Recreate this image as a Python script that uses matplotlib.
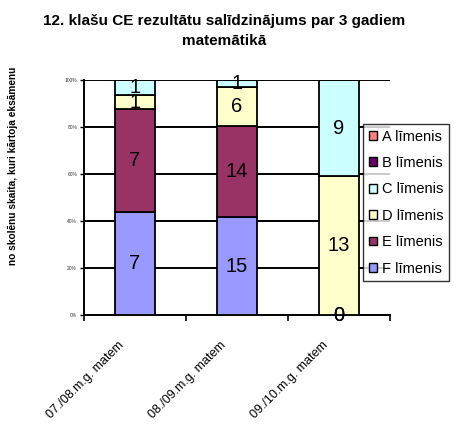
import matplotlib
matplotlib.use("Agg")
import matplotlib.pyplot as plt
import matplotlib.transforms as mtransforms
import numpy as np

plt.rcParams['font.family'] = ['Liberation Sans', 'DejaVu Sans']

categories = ["07./08.m.g. matem", "08./09.m.g. matem", "09./10.m.g. matem"]
levels = ["F līmenis", "E līmenis", "D līmenis", "C līmenis", "B līmenis", "A līmenis"]
F_vals = [7, 15, 0]
E_vals = [7, 14, 0]
D_vals = [1, 6, 13]
C_vals = [1, 1, 9]
B_vals = [0, 0, 0]
A_vals = [0, 0, 0]
colors = ["#9999FF", "#993366", "#FFFFCC", "#CCFFFF", "#660066", "#FF8080"]
yticks = [0, 20, 40, 60, 80, 100]
ytick_labels = ["0%", "20%", "40%", "60%", "80%", "100%"]
title = "12. klašu CE rezultātu salīdzinājums par 3 gadiem\nmatemātikā"
ylabel = "no skolēnu skaita, kuri kārtoja eksāmenu"

series = [F_vals, E_vals, D_vals, C_vals, B_vals, A_vals]
data = np.array(series, dtype=float)
totals = data.sum(axis=0)
pct = data / totals * 100

fig = plt.figure(figsize=(4.54, 4.24), dpi=100)
ax = fig.add_axes([0.185, 0.257, 0.674, 0.554])

x = np.arange(len(categories))
bottom = np.zeros(len(categories))
handles = []
for i, (lab, col) in enumerate(zip(levels, colors)):
    h = ax.bar(x, pct[i], 0.39, bottom=bottom, color=col, edgecolor="black",
               linewidth=1.3, zorder=3, label=lab)
    handles.append(h)
    for j in range(len(categories)):
        v = data[i, j]
        yc = bottom[j] + pct[i, j] / 2
        if v > 0 or bottom[j] == 0:
            ax.text(x[j], yc, f"{int(v)}", ha="center", va="center",
                    fontsize=14.5, color="black", zorder=5)
    bottom += pct[i]

ax.set_xlim(-0.5, 2.5)
ax.set_ylim(0, 100)
ax.set_yticks(yticks)
ax.set_yticklabels(ytick_labels, fontsize=3.5, color="#333333")
ax.yaxis.grid(True, color="black", linewidth=1.4, zorder=0)
ax.set_axisbelow(True)
ax.tick_params(axis="y", length=3, width=1, pad=2)

ax.set_xticks(x)
ax.set_xticklabels(categories, rotation=45, ha="right", va="center",
                   rotation_mode="anchor", fontsize=9)
ax.tick_params(axis="x", which="major", length=0, pad=0)
offset = mtransforms.ScaledTranslation(-13 / 100, -28 / 100, fig.dpi_scale_trans)
for lbl in ax.get_xticklabels():
    lbl.set_transform(lbl.get_transform() + offset)
ax.set_xticks([-0.5, 0.5, 1.5, 2.5], minor=True)
ax.tick_params(axis="x", which="minor", length=4, width=1.2, direction="out")

for s in ["top", "right"]:
    ax.spines[s].set_visible(False)
ax.spines["left"].set_linewidth(1.4)
ax.spines["bottom"].set_linewidth(1.4)

fig.text(0.493, 0.928, title, ha="center", va="center", fontsize=11,
         fontweight="bold", linespacing=1.55)
fig.text(0.028, 0.608, ylabel, rotation=90, ha="center", va="center",
         fontsize=7.3, fontweight="bold")

leg = fig.legend(handles[::-1], levels[::-1], loc="upper left",
                 bbox_to_anchor=(0.80, 0.708), fontsize=10.5, frameon=True,
                 fancybox=False, edgecolor="black", borderpad=0.4,
                 labelspacing=0.85, handlelength=0.55, handleheight=0.55,
                 handletextpad=0.35, borderaxespad=0)
leg.get_frame().set_linewidth(1.0)
for p in leg.get_patches():
    p.set_linewidth(1.0)

fig.savefig("out.png", dpi=100)
